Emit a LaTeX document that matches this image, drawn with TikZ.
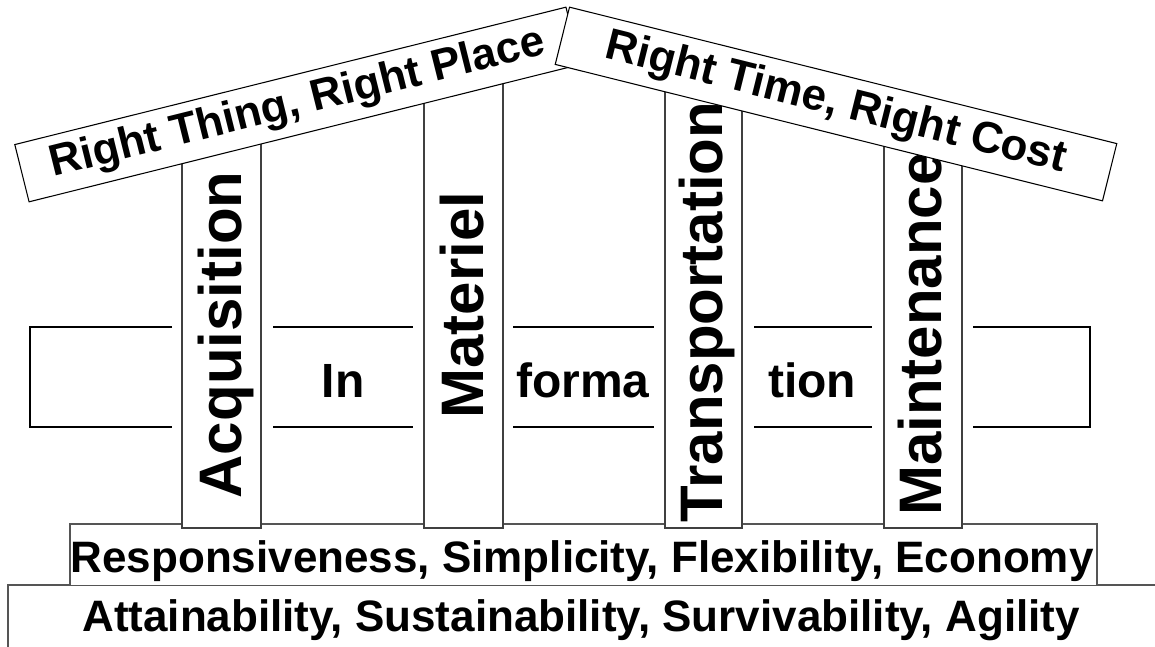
\documentclass[tikz,border=0pt]{standalone}
\usepackage{fontspec}
\setmainfont{Liberation Sans}
\definecolor{pillarline}{HTML}{404040}
\definecolor{baseline}{HTML}{555555}
\begin{document}
\begin{tikzpicture}[x=0.75pt,y=-0.75pt,
  roofbox/.style={draw=black, line width=0.8pt, fill=white, minimum width=#1,
    minimum height=44.25pt, inner sep=0pt, font=\bfseries\fontsize{33}{36}\selectfont},
  pillarbox/.style={draw=pillarline, line width=0.8pt, fill=white},
  pillartext/.style={rotate=90, anchor=base, inner sep=0pt, font=\bfseries\fontsize{45}{48}\selectfont},
  bandline/.style={draw=black, line width=0.8pt},
  bandtext/.style={anchor=base, inner sep=0pt, font=\bfseries\fontsize{36}{40}\selectfont},
  baseline box/.style={draw=baseline, line width=1.3pt, fill=white},
  basetext/.style={anchor=base, inner sep=0pt, font=\bfseries\fontsize{33}{36}\selectfont}]
\useasboundingbox (0,0) rectangle (1155,646);

% foundation boxes
\draw[baseline box] (8,660) -- (8,585) -- (1170,585) -- (1170,660);
\draw[baseline box] (70,585) -- (70,524) -- (1097,524) -- (1097,585);

% information band
\draw[bandline] (172,327) -- (30,327) -- (30,427) -- (172,427);
\draw[bandline] (273,327) -- (413,327) (273,427) -- (413,427);
\draw[bandline] (513,327) -- (654,327) (513,427) -- (654,427);
\draw[bandline] (754,327) -- (872,327) (754,427) -- (872,427);
\draw[bandline] (973,327) -- (1090,327) -- (1090,427) -- (973,427);

% pillars
\draw[pillarbox] (182,130) rectangle (261,528);
\draw[pillarbox] (424,75) rectangle (503,528);
\draw[pillarbox] (665,70) rectangle (742,528);
\draw[pillarbox] (884,140) rectangle (962,528);

\node[pillartext] (acq) at (241,335) {Acquisition};
\node[pillartext] (mat) at (483,305) {Materiel};
\node[pillartext] (tra) at (722,312) {Transportation};
\node[pillartext] (mai) at (941,334) {Maintenance};

\node[bandtext] (in) at (343,397) {In};
\node[bandtext] (forma) at (583,397) {forma};
\node[bandtext] (tion) at (812,397) {tion};

% roof
\node[roofbox=426pt, rotate=14] (roofL) at (297.5,104.5) {Right Thing, Right Place};
\node[roofbox=423pt, rotate=-14] (roofR) at (836,104) {Right Time, Right Cost};

% foundation texts
\node[basetext] (resp) at (582,572) {Responsiveness, Simplicity, Flexibility, Economy};
\node[basetext] (attain) at (581,631) {Attainability, Sustainability, Survivability, Agility};
\end{tikzpicture}
\end{document}
